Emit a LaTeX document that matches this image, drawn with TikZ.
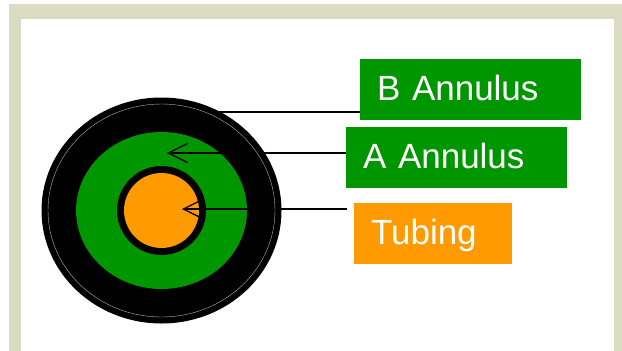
\documentclass[tikz,border=0pt]{standalone}
\usepackage{fontspec}
\setmainfont{Liberation Sans}
\usepackage{tikz}
\usetikzlibrary{arrows.meta,positioning,calc}
\usepackage{xcolor}

\definecolor{framebeige}{RGB}{217,219,195}
\definecolor{annulusgreen}{RGB}{0,150,0}
\definecolor{tubingorange}{RGB}{255,154,0}

\tikzset{
    labelbox/.style={anchor=north west, inner xsep=17pt, inner ysep=0pt, outer sep=0pt,
        minimum height=61pt, align=left, text=white, text height=21pt, text depth=0pt,
        font=\fontsize{35}{40}\selectfont},
    pointer/.style={{Straight Barb[length=19pt,width=19pt]}-, line width=1.3pt, black}
}

\begin{document}
\begin{tikzpicture}[x=1pt, y=-1pt]
    \useasboundingbox (0,0) rectangle (622,351);

    % Frame
    \fill[white] (0,0) rectangle (622,351);
    \fill[framebeige] (9,4) rectangle (622,351);
    \fill[white] (21,19) rectangle (614,351);

    % Cross section
    \pgfmathsetmacro{\cx}{161.5}
    \pgfmathsetmacro{\cy}{210.5}
    \fill[black] (\cx,\cy) ellipse [x radius=120, y radius=113];
    \fill[annulusgreen] (\cx,\cy) ellipse [x radius=85.5, y radius=78.5];
    \fill[black] (\cx,\cy) circle [radius=44.5];
    \fill[tubingorange] (\cx,\cy) circle [radius=37.5];

    % Arrow tips
    \coordinate (tipB) at (168,112);
    \coordinate (tipA) at (167,153);
    \coordinate (tipT) at (182,209);

    % Labels
    \node[labelbox, fill=annulusgreen, text width=187pt] (bann) at (360,59) {B Annulus};
    \node[labelbox, fill=annulusgreen, text width=187pt] (aann) at (346,127) {A Annulus};
    \node[labelbox, fill=tubingorange, text width=124pt] (tube) at (354,203) {Tubing};

    % Connectors
    \draw[pointer] (tipB) -- (tipB -| bann.west);
    \draw[pointer] (tipA) -- (tipA -| aann.west);
    \draw[pointer, shorten >=7pt] (tipT) -- (tipT -| tube.west);

    % thin rim inside the outer casing
    \draw[gray!60, line width=0.4pt] (\cx,\cy) ellipse [x radius=113.5, y radius=106.5];
\end{tikzpicture}
\end{document}
